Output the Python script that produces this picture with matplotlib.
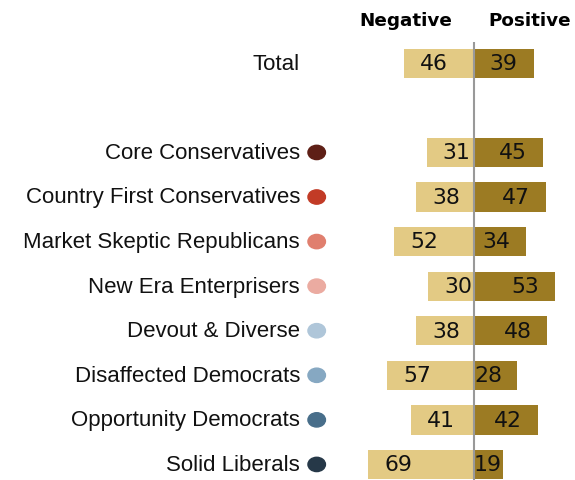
import numpy as np
import matplotlib.pyplot as plt
from matplotlib.patches import Ellipse

groups = ["Total", "Core Conservatives", "Country First Conservatives",
          "Market Skeptic Republicans", "New Era Enterprisers", "Devout & Diverse",
          "Disaffected Democrats", "Opportunity Democrats", "Solid Liberals"]
negative = [46, 31, 38, 52, 30, 38, 57, 41, 69]
positive = [39, 45, 47, 34, 53, 48, 28, 42, 19]
dot_colors = [None, "#5e1f16", "#c23b26", "#e07f6e", "#ebaba1",
              "#afc6d9", "#86a8c2", "#486e8a", "#263848"]

neg_color = "#e3ca84"
pos_color = "#9c7b23"

# layout in pixels -> data units
W, H = 575, 480
cx = 474.0          # zero line x in pixels
pxu = 1.53          # pixels per percentage point
slot = 44.57        # row spacing in pixels
top0 = 63.3         # pixel y of the "Total" row

ypos = np.array([0] + list(range(2, 10)), dtype=float)

fig = plt.figure(figsize=(W / 100, H / 100), dpi=100)
ax = fig.add_axes([0, 0, 1, 1])
ax.set_xlim(-cx / pxu, (W - cx) / pxu)
ax.set_ylim((H - top0) / slot, -top0 / slot)
ax.axis("off")

bh = 29.3 / slot
ax.barh(ypos, [-v for v in negative], height=bh, color=neg_color, edgecolor="none")
ax.barh(ypos, positive, height=bh, color=pos_color, edgecolor="none")
ax.vlines(0, (41.7 - top0) / slot, (H - top0) / slot, color="#999999", lw=1.5, zorder=5)

num_font = dict(family="DejaVu Sans", fontsize=15.8,
                color="#111111", va="center", ha="center", zorder=6)
for y, n, p in zip(ypos, negative, positive):
    ax.text(-n + 30 / pxu, y + 0.02, str(n), **num_font)
    ax.text(max(p - 30 / pxu, 14 / pxu), y + 0.02, str(p), **num_font)

lab_x = (300 - cx) / pxu
dot_x = (316.7 - cx) / pxu
for y, g, c in zip(ypos, groups, dot_colors):
    ax.text(lab_x, y + 0.02, g, ha="right", va="center", fontsize=16,
            family=["Liberation Sans", "DejaVu Sans"], color="#111111")
    if c is not None:
        ax.add_patch(Ellipse((dot_x, y), 17.5 / pxu, 14.3 / slot, color=c))

hy = (21 - top0) / slot
ax.text((406 - cx) / pxu, hy, "Negative", ha="center", va="center",
        fontsize=13.2, fontweight="bold", family="DejaVu Sans")
ax.text((530 - cx) / pxu, hy, "Positive", ha="center", va="center",
        fontsize=13.2, fontweight="bold", family="DejaVu Sans")

fig.savefig("out.png", dpi=100)
